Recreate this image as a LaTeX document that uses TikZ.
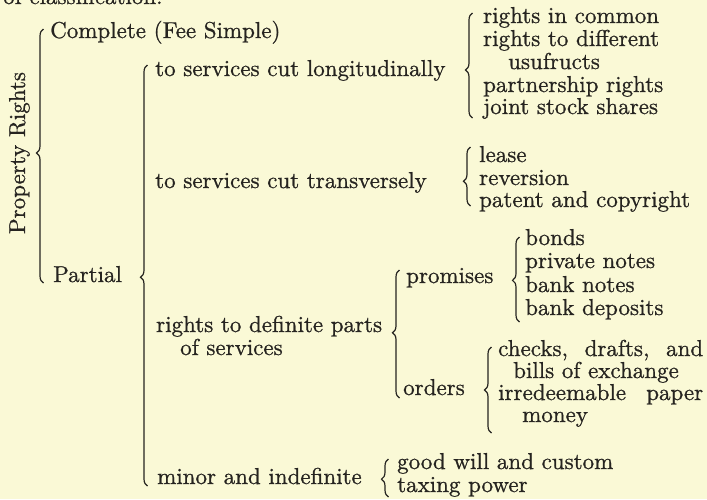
\documentclass[tikz,border=0pt]{standalone}
\usepackage{fontspec}
\newfontfamily\bk{lmroman10-regular.otf}[FakeBold=0.85]
\usetikzlibrary{decorations.pathreplacing}
\definecolor{paper}{RGB}{250,249,214}
\definecolor{ink}{RGB}{38,36,32}
\tikzset{
  lbl/.style={anchor=base west, inner sep=0pt, text=ink, font=\bk\fontsize{23}{22.5}\selectfont},
  brcstyle/.style={draw=ink, line width=1.2pt, decorate}
}
\newcommand\brc[4]{\draw[brcstyle,decoration={brace,amplitude=7pt,aspect=#4}] (#1+3.5,#3) -- (#1+3.5,#2);}
\begin{document}
\begin{tikzpicture}[x=1pt,y=-1pt]
\useasboundingbox (0,0) rectangle (707,499);
\fill[paper] (0,0) rectangle (707,499);
\begin{scope}
\clip (0,0) rectangle (707,499);
\node[lbl] (head) at (3,4) {of classification.};
\end{scope}
% root
\node[lbl, anchor=base, rotate=90] (pr) at (25,153) {Property Rights};
\node[lbl] (complete) at (50,38) {Complete (Fee Simple)};
\node[lbl] (partial) at (53,282) {Partial};
% level 2
\node[lbl] (long) at (155,76) {to services cut longitudinally};
\node[lbl] (trans) at (155,188) {to services cut transversely};
\node[lbl] (defin) at (156,332) {rights to definite parts};
\node[lbl] (defin2) at (180,355) {of services};
\node[lbl] (minor) at (157,484) {minor and indefinite};
% longitudinally
\node[lbl] (l1) at (483,23) {rights in common};
\node[lbl] (l2) at (483,46) {rights to different};
\node[lbl] (l2b) at (508,69) {usufructs};
\node[lbl] (l3) at (483,92) {partnership rights};
\node[lbl] (l4) at (483,114) {joint stock shares};
% transversely
\node[lbl] (t1) at (479,162) {lease};
\node[lbl] (t2) at (479,185) {reversion};
\node[lbl] (t3) at (479,207) {patent and copyright};
% definite parts
\node[lbl] (prom) at (406,283) {promises};
\node[lbl] (ord) at (403,395) {orders};
\node[lbl] (p1) at (525,245) {bonds};
\node[lbl] (p2) at (525,268) {private notes};
\node[lbl] (p3) at (525,292) {bank notes};
\node[lbl] (p4) at (525,315) {bank deposits};
\node[lbl] (o1) at (498,356) {\makebox[205pt][s]{checks, drafts, and}};
\node[lbl] (o1b) at (513,378) {bills of exchange};
\node[lbl] (o2) at (498,400) {\makebox[205pt][s]{irredeemable paper}};
\node[lbl] (o2b) at (522,422) {money};
% minor
\node[lbl] (m1) at (397,469) {good will and custom};
\node[lbl] (m2) at (397,492) {taxing power};
% braces: x of stem, top, bottom, aspect (from bottom)
\brc{40}{29}{283}{0.512}
\brc{144}{65}{486}{0.496}
\brc{469}{13}{118}{0.457}
\brc{467}{147}{206}{0.42}
\brc{516}{237}{322}{0.49}
\brc{396}{270}{398}{0.51}
\brc{488}{347}{433}{0.5}
\brc{385}{459}{497}{0.47}
\end{tikzpicture}
\end{document}
